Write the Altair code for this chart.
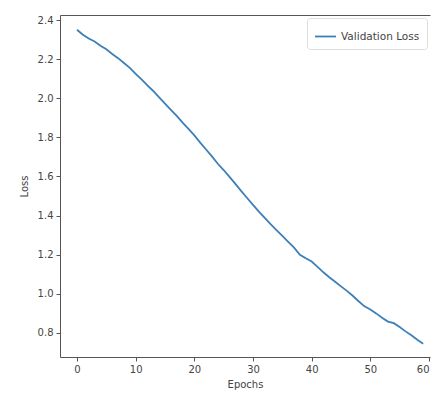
import altair as alt
import pandas as pd

epochs = list(range(60))
val_loss = [
    2.350, 2.325, 2.305, 2.290, 2.268, 2.250, 2.226, 2.205, 2.180, 2.155,
    2.125, 2.096, 2.066, 2.037, 2.005, 1.972, 1.940, 1.910, 1.875, 1.843,
    1.810, 1.773, 1.738, 1.703, 1.665, 1.633, 1.598, 1.562, 1.525, 1.490,
    1.455, 1.420, 1.388, 1.356, 1.326, 1.296, 1.266, 1.236, 1.200, 1.182,
    1.165, 1.138, 1.110, 1.085, 1.062, 1.038, 1.015, 0.990, 0.962, 0.936,
    0.920, 0.900, 0.878, 0.858, 0.850, 0.830, 0.808, 0.788, 0.765, 0.745,
]
series_name = "Validation Loss"
x_ticks = [0, 10, 20, 30, 40, 50, 60]
y_ticks = [0.8, 1.0, 1.2, 1.4, 1.6, 1.8, 2.0, 2.2, 2.4]

df = pd.DataFrame({"Epochs": epochs, "Loss": val_loss, "series": series_name})

axis_common = dict(
    domainColor="#555", tickColor="#555", labelColor="#444", titleColor="#444",
    labelFont="DejaVu Sans", titleFont="DejaVu Sans", labelFontSize=10,
    titleFontSize=10, titleFontWeight="normal", tickSize=4, labelPadding=3,
    grid=False,
)

x_scale = alt.Scale(domain=[-2.9, 60.17], nice=False, zero=False)
y_scale = alt.Scale(domain=[0.677, 2.4256], nice=False, zero=False)

line = alt.Chart(df).mark_line(strokeWidth=1.8).encode(
    x=alt.X("Epochs:Q", scale=x_scale,
            axis=alt.Axis(values=x_ticks, title="Epochs", titlePadding=5, **axis_common)),
    y=alt.Y("Loss:Q", scale=y_scale,
            axis=alt.Axis(values=y_ticks, format=".1f", title="Loss", titlePadding=8, **axis_common)),
    color=alt.Color("series:N",
                    scale=alt.Scale(range=["#3d7fb8"]),
                    legend=alt.Legend(title=None, orient="top-right", offset=3,
                                      fillColor="white", strokeColor="#ddd",
                                      padding=7, cornerRadius=3,
                                      symbolType="stroke", symbolSize=440,
                                      symbolStrokeWidth=1.8,
                                      labelFont="DejaVu Sans", labelFontSize=10.5,
                                      labelColor="#444")),
)

top_frame = alt.Chart(df).mark_line(opacity=0).encode(
    x=alt.X("Epochs:Q", scale=x_scale,
            axis=alt.Axis(orient="top", labels=False, ticks=False, title=None,
                          domainColor="#555", grid=False)),
    y=alt.Y("Loss:Q", scale=y_scale),
)

chart = alt.layer(line, top_frame).resolve_axis(x="independent").properties(
    width=370, height=342,
    autosize=alt.AutoSizeParams(type="none"),
    padding={"left": 52, "top": 7, "right": 6, "bottom": 34},
).configure_view(strokeWidth=0)

chart.save("out.html", embed_options={"renderer": "svg", "actions": False})
